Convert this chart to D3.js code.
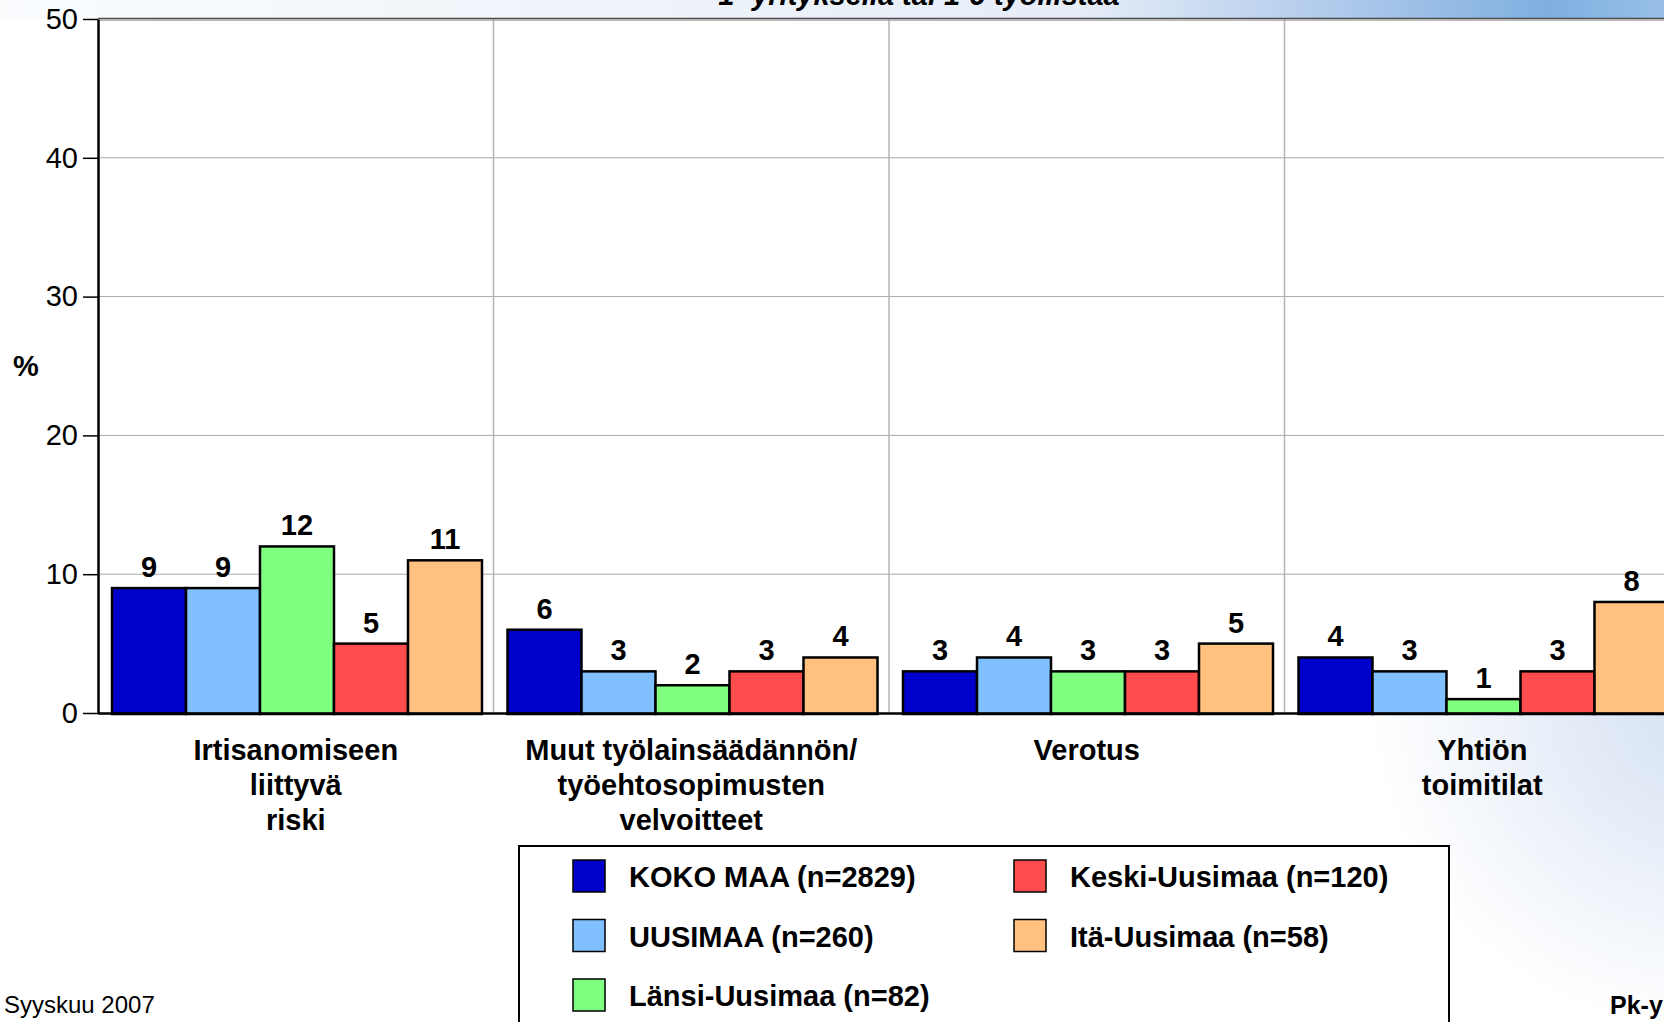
<!DOCTYPE html>
<html>
<head>
<meta charset="utf-8">
<script src="https://cdn.jsdelivr.net/npm/d3@7"></script>
<style>
  body { margin: 0; overflow: hidden; background: #fff; }
  text { font-family: "Liberation Sans", Arial, sans-serif; }
</style>
</head>
<body>
<script>
// data
const categories = ["Irtisanomiseen\nliittyvä\nriski", "Muut työlainsäädännön/\ntyöehtosopimusten\nvelvoitteet", "Verotus", "Yhtiön\ntoimitilat"]
const seriesNames = ["KOKO MAA (n=2829)", "UUSIMAA (n=260)", "Länsi-Uusimaa (n=82)", "Keski-Uusimaa (n=120)", "Itä-Uusimaa (n=58)"]
const seriesColors = ["#0000cc", "#80c0ff", "#80ff80", "#ff4c4c", "#ffc080"]
const kokoMaa = [9, 6, 3, 4]
const uusimaa = [9, 3, 4, 3]
const lansiUusimaa = [12, 2, 3, 1]
const keskiUusimaa = [5, 3, 3, 3]
const itaUusimaa = [11, 4, 5, 8]
const yTicks = [0, 10, 20, 30, 40, 50]

const seriesValues = [kokoMaa, uusimaa, lansiUusimaa, keskiUusimaa, itaUusimaa]

const WIDTH = 1664
const HEIGHT = 1022
const plotLeft = 98, plotTop = 19, plotBottom = 713

const svg = d3.select("body").append("svg").attr("width", WIDTH).attr("height", HEIGHT)
const defs = svg.append("defs")

// slide background bits
const topGrad = defs.append("linearGradient").attr("id", "topGrad")
topGrad.append("stop").attr("offset", "0").attr("stop-color", "#fafcfe")
topGrad.append("stop").attr("offset", "0.65").attr("stop-color", "#e6edf7")
topGrad.append("stop").attr("offset", "0.82").attr("stop-color", "#a9c6ea")
topGrad.append("stop").attr("offset", "0.93").attr("stop-color", "#7fb0e0")
topGrad.append("stop").attr("offset", "1").attr("stop-color", "#98bfe8")
svg.append("rect").attr("x", 0).attr("y", 0).attr("width", WIDTH).attr("height", plotTop).attr("fill", "url(#topGrad)")

const rGrad = defs.append("radialGradient").attr("id", "rGrad")
  .attr("cx", 1700).attr("cy", 700).attr("r", 330).attr("gradientUnits", "userSpaceOnUse")
rGrad.append("stop").attr("offset", "0").attr("stop-color", "#d4e0f2")
rGrad.append("stop").attr("offset", "1").attr("stop-color", "#ffffff")
svg.append("rect").attr("x", 1300).attr("y", plotBottom).attr("width", 364).attr("height", 330).attr("fill", "url(#rGrad)")

// title, mostly outside the picture
svg.append("text").attr("x", 919).attr("y", 5).attr("text-anchor", "middle")
  .attr("font-size", 29).attr("font-weight", "bold").attr("font-style", "italic")
  .text("1- yrityksellä tai 1-9 työllistää")

// scales
const x = d3.scaleBand().domain(categories).range([plotLeft, plotLeft + 4 * 395.5]).padding(0)
const x1 = d3.scaleBand().domain(seriesNames).range([14, 384]).padding(0)
const y = d3.scaleLinear().domain([0, 50]).range([plotBottom, plotTop])

// plot area
svg.append("rect").attr("x", plotLeft).attr("y", plotTop).attr("width", WIDTH - plotLeft).attr("height", plotBottom - plotTop).attr("fill", "#fff")

svg.selectAll(".hgrid").data(yTicks.filter(d => d > 0 && d < 50)).enter().append("line")
  .attr("x1", plotLeft).attr("x2", WIDTH).attr("y1", d => y(d)).attr("y2", d => y(d))
  .attr("stroke", "#a8a8a8").attr("stroke-width", 1)

svg.selectAll(".vgrid").data(categories.slice(1)).enter().append("line")
  .attr("x1", d => x(d)).attr("x2", d => x(d)).attr("y1", plotTop).attr("y2", plotBottom)
  .attr("stroke", "#b4b4b4").attr("stroke-width", 1.5)

// frame top
svg.append("line").attr("x1", plotLeft).attr("x2", WIDTH).attr("y1", y(50) - 0.5).attr("y2", y(50) - 0.5).attr("stroke", "#4a4a4a").attr("stroke-width", 1.5)
svg.append("line").attr("x1", plotLeft).attr("x2", WIDTH).attr("y1", y(50) + 1.2).attr("y2", y(50) + 1.2).attr("stroke", "#a0a0a0").attr("stroke-width", 1.2)

// y axis
const yAxis = svg.append("g").attr("transform", `translate(${plotLeft},0)`)
  .call(d3.axisLeft(y).tickValues(yTicks).tickSize(15).tickPadding(5).tickSizeOuter(0))
yAxis.select(".domain").attr("stroke", "#000").attr("stroke-width", 2.5)
yAxis.selectAll(".tick line").attr("stroke", "#000").attr("stroke-width", 1.5)
yAxis.selectAll(".tick text").attr("font-size", 29).attr("font-family", "Liberation Sans, Arial, sans-serif").attr("fill", "#000")

svg.append("text").attr("x", 26).attr("y", 376).attr("text-anchor", "middle")
  .attr("font-size", 29).attr("font-weight", "bold").text("%")

// bars
const groups = svg.selectAll(".grp").data(categories).enter().append("g")
  .attr("transform", d => `translate(${x(d)},0)`)

groups.each(function(cat, ci) {
  const g = d3.select(this)
  seriesNames.forEach((s, si) => {
    const v = seriesValues[si][ci]
    g.append("rect")
      .attr("x", x1(s)).attr("y", y(v))
      .attr("width", x1.bandwidth()).attr("height", y(0) - y(v) + 1)
      .attr("fill", seriesColors[si]).attr("stroke", "#000").attr("stroke-width", 2.5)
    g.append("text")
      .attr("x", x1(s) + x1.bandwidth() / 2).attr("y", y(v) - 11)
      .attr("text-anchor", "middle").attr("font-size", 29).attr("font-weight", "bold")
      .text(v)
  })
})

// x axis line
svg.append("line").attr("x1", plotLeft).attr("x2", WIDTH).attr("y1", plotBottom + 0.5).attr("y2", plotBottom + 0.5)
  .attr("stroke", "#000").attr("stroke-width", 2.5)

// category labels
categories.forEach(c => {
  const t = svg.append("text").attr("text-anchor", "middle").attr("font-size", 29).attr("font-weight", "bold")
  c.split("\n").forEach((line, i) => {
    t.append("tspan").attr("x", x(c) + x.bandwidth() / 2).attr("y", 760 + i * 35).text(line)
  })
})

// legend
svg.append("rect").attr("x", 519).attr("y", 846).attr("width", 930).attr("height", 200)
  .attr("fill", "#fff").attr("stroke", "#000").attr("stroke-width", 2)

const legendPos = [[573, 860], [573, 919.5], [573, 979], [1014, 860], [1014, 919.5]]
seriesNames.forEach((s, i) => {
  const [lx, ly] = legendPos[i]
  svg.append("rect").attr("x", lx).attr("y", ly).attr("width", 32).attr("height", 32)
    .attr("fill", seriesColors[i]).attr("stroke", "#000").attr("stroke-width", 1.5)
  svg.append("text").attr("x", lx + 56).attr("y", ly + 27)
    .attr("font-size", 29).attr("font-weight", "bold").text(s)
})

// footer
svg.append("text").attr("x", 4).attr("y", 1013).attr("font-size", 24).text("Syyskuu 2007")
svg.append("text").attr("x", 1610).attr("y", 1014).attr("font-size", 25).attr("font-weight", "bold").text("Pk-yritysbarometri")
</script>
</body>
</html>
